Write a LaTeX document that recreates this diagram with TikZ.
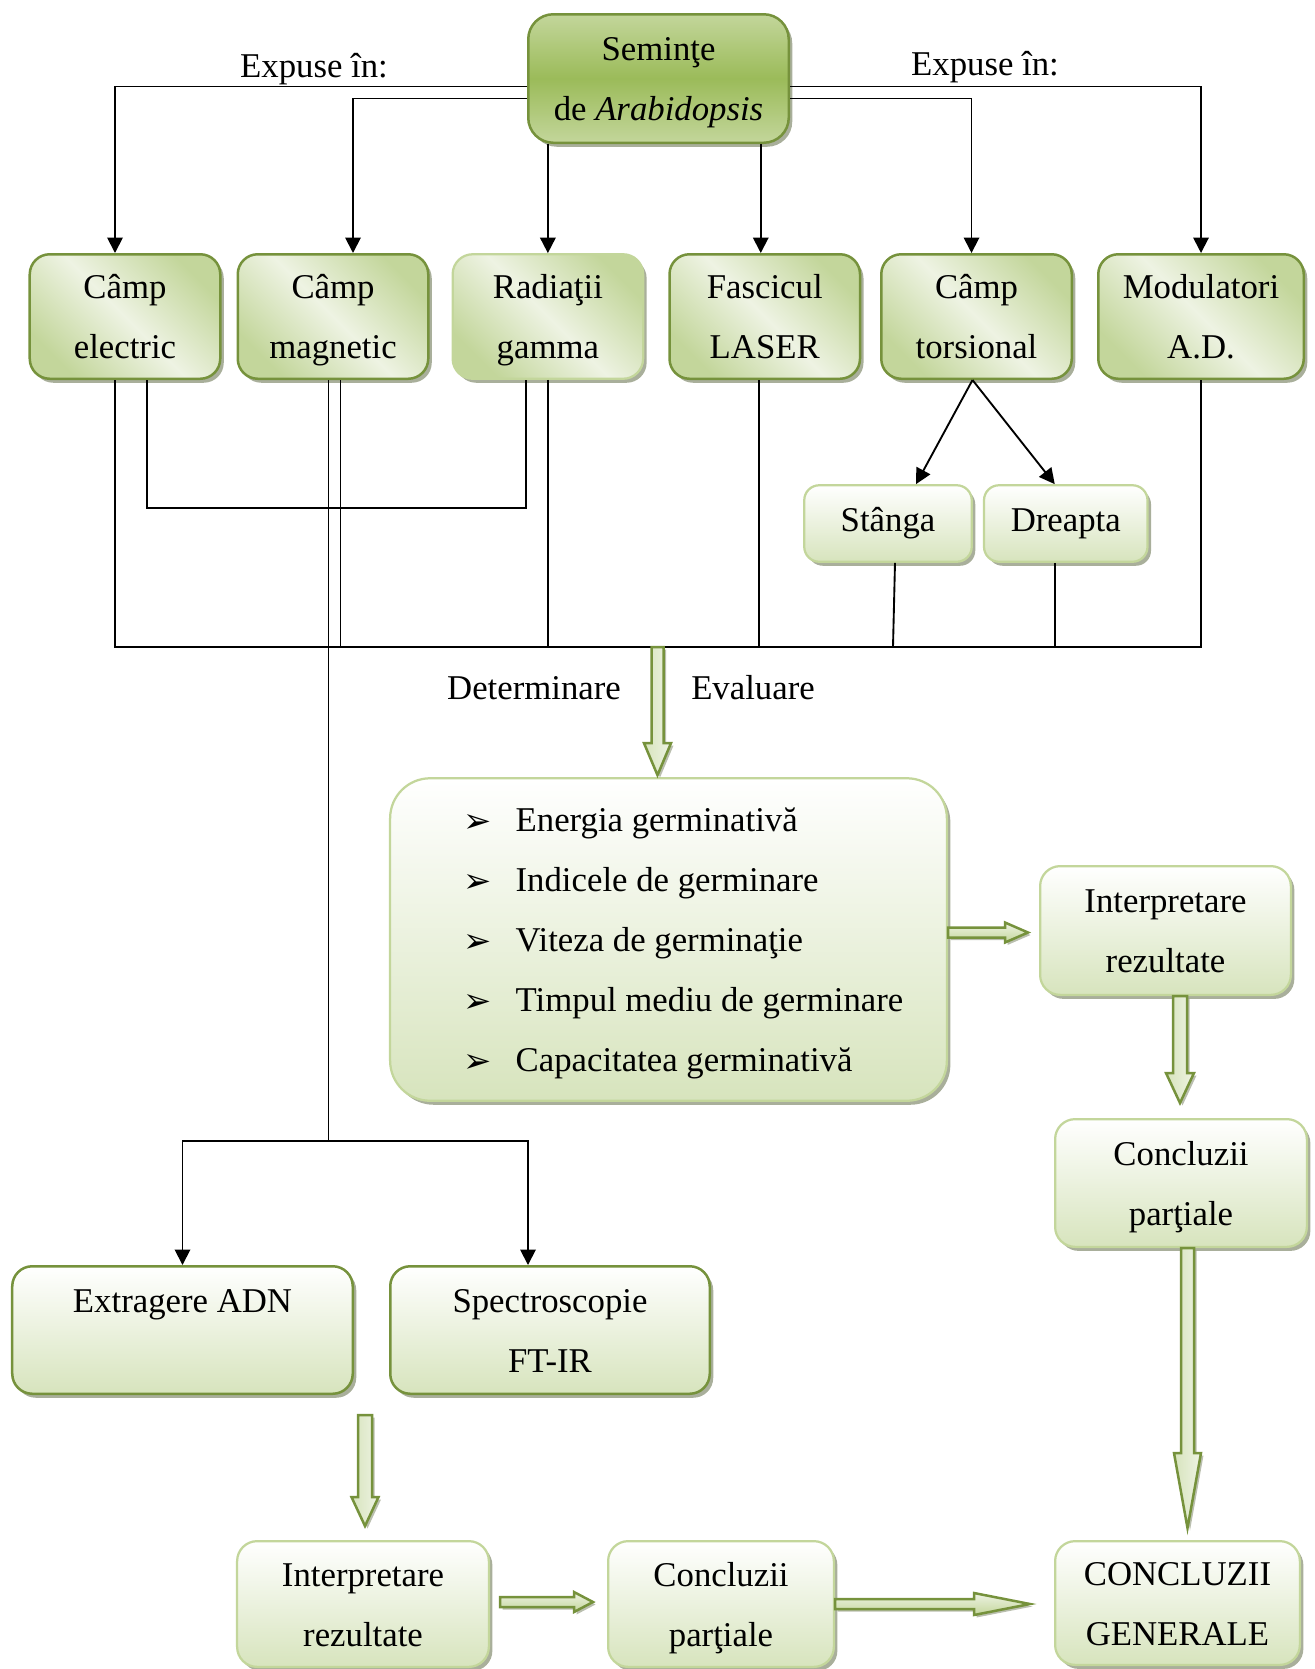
\documentclass[tikz,border=0pt]{standalone}
\usepackage{fontspec}
\setmainfont{Liberation Serif}
\newfontfamily\symfont{DejaVu Sans}
\usetikzlibrary{positioning,calc,shadows,arrows.meta}

\definecolor{olivedark}{HTML}{76923C}
\definecolor{olivemid}{HTML}{9BBB59}
\definecolor{olivelight}{HTML}{C3D69B}
\definecolor{olivepale}{HTML}{D7E4BD}
\definecolor{olivewash}{HTML}{EEF3E3}
\definecolor{shadowgrey}{HTML}{8C9479}

\newcommand{\pxu}{0.4pt}
\newcommand{\bul}{\makebox[32.8pt][r]{\raisebox{-0.3pt}{\symfont\fontsize{13.5}{16}\selectfont ➢}\hspace{9.6pt}}}
\newcommand{\fatdown}[5]{%
    \path[fatv] let \p1=(#1), \p2=(#2) in
        (\x2-#3*\pxu,\y1) -- (\x2-#3*\pxu,\y2+#5*\pxu) -- (\x2-#4*\pxu,\y2+#5*\pxu) -- (\x2,\y2)
        -- (\x2+#4*\pxu,\y2+#5*\pxu) -- (\x2+#3*\pxu,\y2+#5*\pxu) -- (\x2+#3*\pxu,\y1) -- cycle;}
\newcommand{\fatright}[5]{%
    \path[fath] let \p1=(#1), \p2=(#2) in
        (\x1,\y2+#3*\pxu) -- (\x2-#5*\pxu,\y2+#3*\pxu) -- (\x2-#5*\pxu,\y2+#4*\pxu) -- (\x2,\y2)
        -- (\x2-#5*\pxu,\y2-#4*\pxu) -- (\x2-#5*\pxu,\y2-#3*\pxu) -- (\x1,\y2-#3*\pxu) -- cycle;}

\tikzset{
    every node/.style={font=\fontsize{13.9}{24}\selectfont},
    box/.style={rectangle, rounded corners=8pt, inner sep=0pt, align=center,
        drop shadow={shadow xshift=1.4pt, shadow yshift=-1.6pt, fill=shadowgrey, opacity=0.75}},
    seedbox/.style={box, rounded corners=10pt, draw=olivedark, line width=1pt,
        top color=olivelight, bottom color=olivelight, middle color=olivemid,
        minimum width=104.2pt, minimum height=51.4pt},
    fieldbox/.style={box, draw=olivedark, line width=1pt,
        top color=olivelight, bottom color=olivelight, middle color=olivewash, shading angle=-45,
        minimum width=76.2pt, minimum height=49.8pt},
    paleedge/.style={draw=olivelight, line width=0.9pt},
    resultbox/.style={box, paleedge, top color=white, bottom color=olivepale},
    sidebox/.style={resultbox, rounded corners=6pt, minimum width=67pt, minimum height=30.6pt},
    feed/.style={line width=0.75pt, -{Triangle[length=6.2pt, width=6.2pt]}},
    wire/.style={line width=0.75pt},
    fatv/.style={draw=olivedark, line width=1pt, left color=olivepale, right color=olivewash,
        drop shadow={shadow xshift=1pt, shadow yshift=-1pt, fill=shadowgrey, opacity=0.6}},
    fath/.style={draw=olivedark, line width=1pt, top color=olivewash, bottom color=olivelight,
        drop shadow={shadow xshift=1pt, shadow yshift=-1pt, fill=shadowgrey, opacity=0.6}},
}

\begin{document}
\begin{tikzpicture}[x=0.4pt, y=-0.4pt]
            \useasboundingbox (0,0) rectangle (1315,1669);
            \node[seedbox] (seeds) at (658.5,78.5) {\strut Seminţe\\de \textit{Arabidopsis}\strut};
            \node[fieldbox] (electric) at (125,316.5) {\strut Câmp\\electric\strut};
            \node[fieldbox, right=6pt of electric] (magnetic) {\strut Câmp\\magnetic\strut};
            \node[fieldbox, paleedge, right=8.8pt of magnetic] (gamma) {\strut Radiaţii\\gamma\strut};
            \node[fieldbox, right=9.6pt of gamma] (laser) {\strut Fascicul\\LASER\strut};
            \node[fieldbox, right=7.5pt of laser] (torsional) {\strut Câmp\\torsional\strut};
            \node[fieldbox, right=9.6pt of torsional, minimum width=82.2pt] (modul) {\strut Modulatori\\A.D.\strut};
            \node[sidebox] (stanga) at (888,523.5) {Stânga};
            \node[sidebox, right=4pt of stanga, minimum width=65.4pt] (dreapta) {Dreapta};
            \node[resultbox, align=left, rounded corners=16pt, minimum width=222.7pt, minimum height=129pt] (eval) at (668.5,939.5)
                {\strut\bul Energia germinativă\\ \bul Indicele de germinare\\ \bul Viteza de germinaţie\\ \bul Timpul mediu de germinare\\ \bul Capacitatea germinativă\strut};
            \node[resultbox, minimum width=100.3pt, minimum height=51.5pt] (interp1) at (1165.5,930.5) {\strut Interpretare\\rezultate\strut};
            \node[resultbox, minimum width=100.7pt, minimum height=51.1pt] (concl1) at (1181,1183) {\strut Concluzii\\parţiale\strut};
            \node[resultbox, minimum width=97.9pt, minimum height=49.5pt] (general) at (1177.5,1603) {\strut CONCLUZII\\GENERALE\strut};
            \node[resultbox, draw=olivedark, line width=1pt, minimum width=136.2pt, minimum height=51pt] (adn) at (182.5,1330) {\strut Extragere ADN\\\strut};
            \node[resultbox, draw=olivedark, line width=1pt, minimum width=127.8pt, minimum height=51pt] (ftir) at (550,1330) {\strut Spectroscopie\\FT-IR\strut};
            \node[resultbox, minimum width=100.7pt, minimum height=50.3pt] (interp2) at (363,1604) {\strut Interpretare\\rezultate\strut};
            \node[resultbox, minimum width=90.3pt, minimum height=50.3pt] (concl2) at (721,1604) {\strut Concluzii\\parţiale\strut};
            \node[anchor=base] (exleft) at (314,77) {Expuse în:};
            \node[anchor=base] (exright) at (985,75) {Expuse în:};
            \node[anchor=base] (determ) at (534,699) {Determinare};
            \node[anchor=base] (evalu) at (753,699) {Evaluare};

            \draw[feed] ($(seeds.west)+(0,8)$) -| ($(electric.north)+(-10,0)$);
            \draw[feed] ($(seeds.west)+(0,20)$) -| ($(magnetic.north)+(20,0)$);
            \draw[feed] (gamma.north |- seeds.south) -- (gamma.north);
            \coordinate (lz) at ($(laser.north)+(-4,0)$);
            \draw[feed] (lz |- seeds.south) -- (lz);
            \draw[feed] ($(seeds.east)+(0,20)$) -| ($(torsional.north)+(-5,0)$);
            \draw[feed] ($(seeds.east)+(0,8)$) -| (modul.north);
            \draw[feed] ($(torsional.south)+(-4,0)$) -- ($(stanga.north)+(28,0)$);
            \draw[feed] ($(torsional.south)+(-4,0)$) -- ($(dreapta.north)+(-11,0)$);

            \coordinate (busL) at ($(electric.south)+(-10,267)$);
            \coordinate (busR) at (modul.south |- busL);
            \draw[wire] ($(electric.south)+(-10,0)$) -- (busL) -- (busR) -- (modul.south);
            \coordinate (m2) at ($(magnetic.south)+(7.5,0)$);
            \draw[wire] (m2) -- (m2 |- busL);
            \draw[wire] (gamma.south) -- (gamma.south |- busL);
            \coordinate (l2) at ($(laser.south)+(-5.5,0)$);
            \draw[wire] (l2) -- (l2 |- busL);
            \draw[wire] ($(stanga.south)+(7,0)$) -- ($(stanga.south |- busL)+(5,0)$);
            \coordinate (d2) at ($(dreapta.south)+(-11,0)$);
            \draw[wire] (d2) -- (d2 |- busL);
            \draw[wire] ($(electric.south)+(22,0)$) -- ++(0,128) -| ($(gamma.south)+(-21.5,0)$);
            \coordinate (m1) at ($(magnetic.south)+(-4.5,0)$);
            \coordinate (split) at ($(m1)+(0,761)$);
            \draw[wire] (m1) -- (split);
            \draw[feed] (split) -| (adn.north);
            \draw[feed] (split) -| ($(ftir.north)+(-22,0)$);

            \coordinate (ev) at ($(eval.north)+(-11,-2)$);
            \fatdown{ev |- busL}{ev}{6}{13.5}{32}
            \coordinate (ie) at ($(interp1.west)+(-11,2)$);
            \fatright{eval.east |- ie}{ie}{5}{10}{23}
            \coordinate (c1t) at ($(concl1.north)+(-1,-15)$);
            \fatdown{c1t |- interp1.south}{c1t}{7}{14}{30}
            \coordinate (gt) at ($(general.north)+(10,-12)$);
            \fatdown{gt |- concl1.south}{gt}{6.5}{13.5}{75}
            \coordinate (i2t) at ($(interp2.north)+(2,-14)$);
            \fatdown{$(adn.south -| i2t)+(0,20)$}{i2t}{7}{13.5}{29}
            \coordinate (c2w) at ($(concl2.west)+(-14,-2)$);
            \fatright{$(interp2.east |- c2w)+(10,0)$}{c2w}{5}{10}{19}
            \coordinate (gw) at ($(general.west)+(-24,1)$);
            \fatright{concl2.east |- gw}{gw}{5}{11}{56}
\end{tikzpicture}
\end{document}
